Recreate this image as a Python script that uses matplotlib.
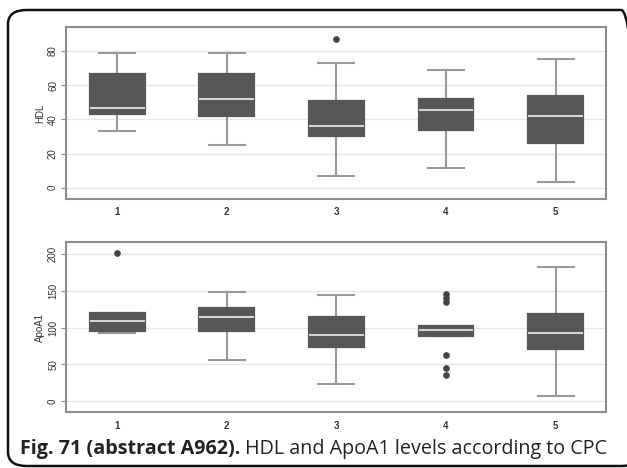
import numpy as np
import matplotlib
matplotlib.use('Agg')
import matplotlib.pyplot as plt
from matplotlib.patches import FancyBboxPatch

groups = [1, 2, 3, 4, 5]

# HDL
hdl_q1 = [43, 42, 30, 34, 26]
hdl_med = [46.5, 51.7, 36.3, 45.6, 41.8]
hdl_q3 = [66.3, 66.7, 50.7, 51.9, 53.8]
hdl_lo = [33, 25, 7, 11.3, 3.3]
hdl_hi = [78.6, 78.6, 73, 68.9, 75.5]
hdl_out = [[], [], [86.8], [], []]

# ApoA1
apo_q1 = [95, 95.8, 73.2, 88.1, 71.3]
apo_med = [108.6, 114.4, 90.3, 96.3, 93]
apo_q3 = [120.5, 127, 114.9, 101.7, 118]
apo_lo = [93, 55.4, 23.6, 88.1, 6.8]
apo_hi = [120.5, 148.5, 144, 101.7, 183]
apo_out = [[201], [], [], [145.3, 140, 135.3, 62.3, 45.4, 35.4], []]


def make_stats(q1, med, q3, lo, hi, out):
    stats = []
    for i in range(len(q1)):
        stats.append({'q1': q1[i], 'med': med[i], 'q3': q3[i],
                      'whislo': lo[i], 'whishi': hi[i],
                      'fliers': out[i], 'label': str(groups[i])})
    return stats


fig = plt.figure(figsize=(6.27, 4.68), dpi=100)
W, H = 627.0, 468.0

box_color = '#575757'
line_color = '#9a9a9a'
spine_color = '#8c8c8c'


def draw_panel(rect, stats, ylabel, ylim, yticks):
    ax = fig.add_axes(rect)
    ax.bxp(stats, positions=groups, widths=0.5, patch_artist=True,
           showfliers=True,
           boxprops=dict(facecolor=box_color, edgecolor=box_color,
                         linewidth=1.6, zorder=3),
           medianprops=dict(color='#d4d4d4', linewidth=1.5, zorder=4),
           whiskerprops=dict(color=line_color, linewidth=1.5, zorder=2),
           capprops=dict(color=line_color, linewidth=1.5, zorder=2),
           capwidths=0.33,
           flierprops=dict(marker='o', markersize=3.8, markerfacecolor='#444444',
                           markeredgecolor='#444444'))
    ax.set_xlim(0.53, 5.46)
    ax.set_ylim(*ylim)
    ax.set_yticks(yticks)
    ax.set_yticklabels([str(t) for t in yticks], rotation=90, va='center',
                       fontsize=7, color='#333333', family='Liberation Sans')
    ax.set_xticks(groups)
    ax.set_xticklabels([str(g) for g in groups], fontsize=7, color='#333333',
                       fontweight='bold', family='Liberation Sans')
    ax.tick_params(axis='x', length=0, pad=6)
    ax.tick_params(axis='y', length=3.5, width=0.8, color=spine_color, pad=2)
    ax.set_ylabel(ylabel, fontsize=7, color='#333333', labelpad=2,
                  family='Liberation Sans')
    ax.yaxis.grid(True, color='#e6e6e6', linewidth=1.0)
    ax.set_axisbelow(True)
    for s in ax.spines.values():
        s.set_color(spine_color)
        s.set_linewidth(1.5)
    return ax


draw_panel([65.7 / W, 1 - 199 / H, (606 - 65.7) / W, (199 - 27.3) / H],
           make_stats(hdl_q1, hdl_med, hdl_q3, hdl_lo, hdl_hi, hdl_out),
           'HDL', (-6.6, 93.9), [0, 20, 40, 60, 80])

draw_panel([65.7 / W, 1 - 412.3 / H, (606 - 65.7) / W, (412.3 - 241.7) / H],
           make_stats(apo_q1, apo_med, apo_q3, apo_lo, apo_hi, apo_out),
           'ApoA1', (-15.4, 217), [0, 50, 100, 150, 200])

# rounded outer frame
frame = FancyBboxPatch((8 / W, 1 - 466 / H), (640 - 8) / W, (466 - 10) / H,
                       boxstyle='round,pad=0,rounding_size=0.03',
                       transform=fig.transFigure, fill=False,
                       edgecolor='#111111', linewidth=1.8, clip_on=False)
fig.patches.append(frame)

# caption: bold part followed by regular part
t1 = fig.text(20 / W, 1 - 454 / H, 'Fig. 71 (abstract A962).', fontsize=14.2,
              fontweight='bold', family='Open Sans', color='#222222')
plt.annotate(' HDL and ApoA1 levels according to CPC', xy=(1, 0),
             xycoords=t1, va='bottom', ha='left', fontsize=14.2,
             family='Open Sans', color='#222222', annotation_clip=False)

plt.savefig('out.png', dpi=100)
